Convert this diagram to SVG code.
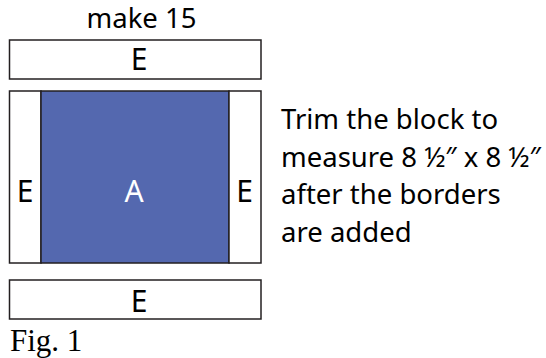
<svg xmlns="http://www.w3.org/2000/svg" width="546" height="358" viewBox="0 0 546 358">
<style>
.box{fill:#fff;stroke:#231f20;stroke-width:1.5}
.blue{fill:#5468af;stroke:#231f20;stroke-width:1.5}
.lbl{font-family:"Noto Sans","Open Sans",sans-serif;font-size:30px;fill:#000;text-anchor:middle}
.t{font-family:"Noto Sans","Open Sans",sans-serif;font-size:27.5px;fill:#000}
</style>
<rect width="546" height="358" fill="#fff"/>
<text class="t" x="141.5" y="28" text-anchor="middle">make 15</text>
<g id="top-e">
<rect class="box" x="9.5" y="40" width="251.5" height="39"/>
<text class="lbl" x="139" y="69.5">E</text>
</g>
<g id="left-e">
<rect class="box" x="9.5" y="91" width="31.5" height="172"/>
<text class="lbl" x="25" y="201.5">E</text>
</g>
<g id="a">
<rect class="blue" x="41" y="91" width="188" height="172"/>
<text class="lbl" x="134" y="201.5" style="fill:#fff">A</text>
</g>
<g id="right-e">
<rect class="box" x="229" y="91" width="32" height="172"/>
<text class="lbl" x="244.5" y="201.5">E</text>
</g>
<g id="bottom-e">
<rect class="box" x="9.5" y="280" width="251.5" height="39"/>
<text class="lbl" x="139" y="311.5">E</text>
</g>
<g id="note">
<text class="t" x="281" y="129">Trim the block to</text>
<text class="t" x="281" y="167">measure 8 ½″ x 8 ½″</text>
<text class="t" x="281" y="204">after the borders</text>
<text class="t" x="281" y="242">are added</text>
</g>
<text x="10" y="351" font-family="'Liberation Serif',serif" font-size="31" fill="#000">Fig. 1</text>
<g id="connectors"/>
</svg>
